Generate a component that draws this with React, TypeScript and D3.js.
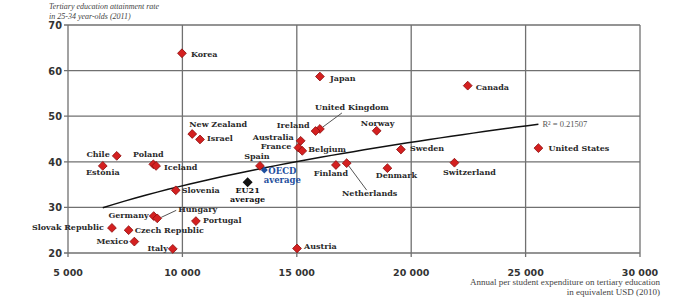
import React from "react";
import * as d3 from "d3";

const countries = [
  "Korea", "Japan", "Canada", "United Kingdom", "Ireland", "Norway", "New Zealand", "Israel",
  "Australia", "France", "Belgium", "Spain", "Finland", "Netherlands", "Denmark", "Sweden",
  "Switzerland", "United States", "Austria", "Chile", "Estonia", "Poland", "Iceland", "Slovenia",
  "Germany", "Hungary", "Portugal", "Slovak Republic", "Czech Republic", "Mexico", "Italy",
];
const expenditure = [
  9980, 16010, 22470, 16010, 15820, 18490, 10430, 10770,
  15170, 15070, 15240, 13390, 16710, 17180, 18960, 19550,
  21890, 25560, 15010, 7130, 6520, 8730, 8850, 9710,
  8745, 8900, 10590, 6920, 7650, 7900, 9580,
];
const attainment = [
  63.8, 58.7, 56.7, 47.2, 46.75, 46.8, 46.1, 44.9,
  44.6, 43.1, 42.4, 39.1, 39.3, 39.7, 38.6, 42.7,
  39.8, 43.0, 21.0, 41.3, 39.1, 39.45, 39.1, 33.75,
  28.1, 27.6, 27.0, 25.5, 25.0, 22.5, 20.9,
];

// label placement: [anchor, dx, dy]
const labelPlacement: [string, number, number][] = [
  ["start", 9, 4], ["start", 10, 4], ["start", 8, 4], ["middle", 32, -19], ["end", -6, -3],
  ["middle", 1, -5], ["start", -3, -7], ["start", 7, 2], ["end", -7, -1], ["end", -7, 1],
  ["start", 6, 1], ["middle", -3, -7], ["middle", -5, 11], ["middle", 23, 33], ["middle", 9, 10],
  ["start", 9, 2], ["middle", 15, 12], ["start", 10, 3], ["start", 7, 1], ["end", -7, 1.5],
  ["middle", 0, 9], ["middle", -5, -7], ["start", 8, 4], ["start", 6, 3], ["end", -5, 2],
  ["start", 21, -6], ["start", 7, 1.5], ["end", -8, 2.5], ["start", 6, 3], ["end", -6, 2],
  ["end", -5, 2],
];
// leader lines: country, x1, y1, x2, y2 (offsets from the point)
const leaders: [string, number, number, number, number][] = [
  ["United Kingdom", 3, -2, 22, -16],
  ["Netherlands", 0, 0, 20, 27],
  ["Hungary", 4, -1, 19, -8],
];

const averageNames = ["OECD", "EU21"];
const averageExpenditure = [13580, 12850];
const averageAttainment = [38.2, 35.5];

const xTicks = [5000, 10000, 15000, 20000, 25000, 30000];
const yTicks = [20, 30, 40, 50, 60, 70];

const trendCoef = 1.383;
const trendExp = 0.35;
const trendRange = [6520, 25560];
const rSquared = "R² = 0.21507";

const W = 700, H = 300;
const x = d3.scaleLinear().domain([5000, 30000]).range([68, 640]);
const y = d3.scaleLinear().domain([20, 70]).range([253, 25]);
const fmt = (v: number) => d3.format(",")(v).replace(",", " ");

const LABEL_FONT = "'DejaVu Serif', serif";
const GRID = "#707070";
const RED = "#d42020";

function diamond(cx: number, cy: number, r: number) {
  return `M${cx},${cy - r}L${cx + r},${cy}L${cx},${cy + r}L${cx - r},${cy}Z`;
}

export default function App() {
  const trendPts = d3.range(0, 41).map((i) => {
    const v = trendRange[0] + ((trendRange[1] - trendRange[0]) * i) / 40;
    return [v, trendCoef * Math.pow(v, trendExp)] as [number, number];
  });
  const line = d3.line<[number, number]>().x((d) => x(d[0])).y((d) => y(d[1]));
  const tEnd = trendPts[trendPts.length - 1];

  return (
    <svg width={W} height={H} style={{ position: "fixed", left: 0, top: 0, background: "#fff" }}>
      {/* grid */}
      {yTicks.map((t) => (
        <line key={"gy" + t} x1={x(5000) - 4} x2={x(30000)} y1={y(t)} y2={y(t)} stroke={GRID} strokeWidth={1.3} />
      ))}
      {xTicks.map((t) => (
        <line key={"gx" + t} x1={x(t)} x2={x(t)} y1={y(70)} y2={y(20) + 4} stroke={GRID} strokeWidth={1.3} />
      ))}
      {/* tick labels */}
      {yTicks.map((t) => (
        <text key={"ty" + t} x={62} y={y(t) + 4} textAnchor="end" fontFamily="'DejaVu Sans', sans-serif" fontWeight="bold" fontSize={9.8} fill="#333">
          {t}
        </text>
      ))}
      {xTicks.map((t) => (
        <text key={"tx" + t} x={x(t)} y={276} textAnchor="middle" fontFamily="'DejaVu Sans', sans-serif" fontWeight="bold" fontSize={9.5} fill="#333">
          {fmt(t)}
        </text>
      ))}
      {/* titles */}
      <text x={49} y={9} fontFamily="'Liberation Serif', serif" fontStyle="italic" fontSize={8} fill="#444">
        Tertiary education attainment rate
      </text>
      <text x={49} y={18.5} fontFamily="'Liberation Serif', serif" fontStyle="italic" fontSize={8} fill="#444">
        in 25-34 year-olds (2011)
      </text>
      <text x={660} y={285} textAnchor="end" fontFamily="'Liberation Serif', serif" fontSize={9} fill="#444">
        Annual per student expenditure on tertiary education
      </text>
      <text x={660} y={295} textAnchor="end" fontFamily="'Liberation Serif', serif" fontSize={9} fill="#444">
        in equivalent USD (2010)
      </text>
      {/* trend */}
      <path d={line(trendPts) || ""} fill="none" stroke="#111" strokeWidth={1.5} />
      <text x={x(tEnd[0]) + 4} y={y(tEnd[1]) + 2.5} fontFamily="'Liberation Serif', serif" fontSize={8.5} fill="#555">
        {rSquared}
      </text>
      {/* leaders */}
      {leaders.map(([name, x1, y1, x2, y2]) => {
        const i = countries.indexOf(name);
        const px = x(expenditure[i]), py = y(attainment[i]);
        return <line key={"l" + name} x1={px + x1} y1={py + y1} x2={px + x2} y2={py + y2} stroke="#555" strokeWidth={1} />;
      })}
      {/* points */}
      {countries.map((c, i) => (
        <path key={"p" + c} d={diamond(x(expenditure[i]), y(attainment[i]), 4.4)} fill={RED} stroke="#8a0a0a" strokeWidth={0.8} />
      ))}
      {countries.map((c, i) => {
        const [anchor, dx, dy] = labelPlacement[i];
        return (
          <text key={"t" + c} x={x(expenditure[i]) + dx} y={y(attainment[i]) + dy} textAnchor={anchor as any}
            fontFamily={LABEL_FONT} fontWeight="bold" fontSize={8} fill="#2a2a2a">
            {c}
          </text>
        );
      })}
      {/* averages */}
      <path d={diamond(x(averageExpenditure[1]), y(averageAttainment[1]), 5)} fill="#111" />
      <text x={x(averageExpenditure[1])} y={y(averageAttainment[1]) + 11} textAnchor="middle" fontFamily={LABEL_FONT} fontWeight="bold" fontSize={8} fill="#111">
        <tspan x={x(averageExpenditure[1])}>{averageNames[1]}</tspan>
        <tspan x={x(averageExpenditure[1])} dy={8.5}>average</tspan>
      </text>
      <path d={diamond(x(averageExpenditure[0]), y(averageAttainment[0]), 3.5)} fill="#1f4f9e" />
      <text x={x(averageExpenditure[0]) + 18} y={y(averageAttainment[0]) + 4} textAnchor="middle" fontFamily={LABEL_FONT} fontWeight="bold" fontSize={8.5} fill="#1f4f9e">
        <tspan x={x(averageExpenditure[0]) + 18}>{averageNames[0]}</tspan>
        <tspan x={x(averageExpenditure[0]) + 18} dy={8.5}>average</tspan>
      </text>
    </svg>
  );
}
